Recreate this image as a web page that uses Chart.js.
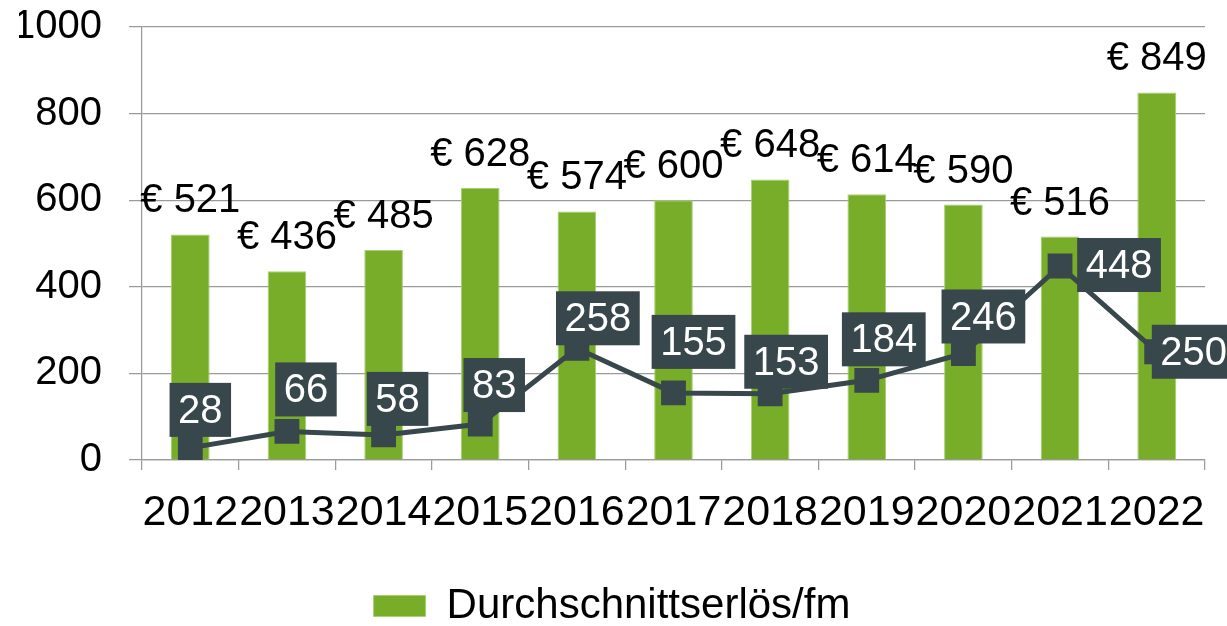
<!DOCTYPE html>
<html>
<head>
<meta charset="utf-8">
<script src="https://cdn.jsdelivr.net/npm/chart.js@4.4.0/dist/chart.umd.min.js"></script>
<style>
  html, body { margin: 0; padding: 0; background: #fff; }
  canvas { display: block; }
</style>
</head>
<body>
<canvas id="chart" width="1227" height="626"></canvas>
<script>
// Chart data
const years = ['2012', '2013', '2014', '2015', '2016', '2017', '2018', '2019', '2020', '2021', '2022'];
const avgRevenue = [521, 436, 485, 628, 574, 600, 648, 614, 590, 516, 849];
const lineValues = [28, 66, 58, 83, 258, 155, 153, 184, 246, 448, 250];
const yTicks = [0, 200, 400, 600, 800, 1000];

// Where each line label box sits relative to its point (dx, dy)
const lineLabelOffsets = [[10, -38], [19, -42], [14, -36], [14, -39], [21, -30], [20, -51],
    [16, -32], [17, -41], [20, -37], [59, -1], [37, 0]];

const FONT = "'Liberation Sans', Arial, sans-serif";
const green = '#78ad29';
const slate = '#37474c';
const gridGray = '#9a9a9a';

// Draw the value labels (bars: plain text, line: boxed)
const valueLabels = {
    id: 'valueLabels',
    afterDatasetsDraw(chart) {
        const ctx = chart.ctx;
        ctx.save();
        ctx.font = '40px ' + FONT;

        // bar labels
        const barMeta = chart.getDatasetMeta(0);
        ctx.fillStyle = '#000';
        ctx.textAlign = 'center';
        ctx.textBaseline = 'alphabetic';
        barMeta.data.forEach((bar, i) => {
            ctx.fillText('€ ' + avgRevenue[i], bar.x, bar.y - 22);
        });

        // line labels
        const lineMeta = chart.getDatasetMeta(1);
        ctx.textBaseline = 'middle';
        lineMeta.data.forEach((pt, i) => {
            const text = String(lineValues[i]);
            const w = ctx.measureText(text).width + 17;
            const h = 54;
            const cx = pt.x + lineLabelOffsets[i][0];
            const cy = pt.y + lineLabelOffsets[i][1];
            ctx.fillStyle = slate;
            ctx.fillRect(cx - w / 2, cy - h / 2, w, h);
            ctx.fillStyle = '#fff';
            ctx.fillText(text, cx, cy + 2);
        });
        ctx.restore();
    }
};

const ctx = document.getElementById('chart').getContext('2d');
const chart = new Chart(ctx, {
    data: {
        labels: years,
        datasets: [
            {
                type: 'bar',
                label: 'Durchschnittserlös/fm',
                data: avgRevenue,
                backgroundColor: green,
                borderColor: '#a9cf6f',
                borderWidth: 1,
                barPercentage: 0.4,
                categoryPercentage: 1.0,
                order: 2
            },
            {
                type: 'line',
                label: 'Menge',
                data: lineValues,
                borderColor: slate,
                backgroundColor: slate,
                borderWidth: 5,
                pointStyle: 'rect',
                pointRadius: 14,
                pointHoverRadius: 14,
                tension: 0,
                order: 1
            }
        ]
    },
    options: {
        responsive: false,
        animation: false,
        events: [],
        layout: {
            padding: { left: 19, right: 22, top: 27, bottom: -11 }
        },
        scales: {
            x: {
                offset: true,
                afterFit(scale) {
                    scale.height = 119;
                    scale.paddingLeft = 0;
                    scale.paddingRight = 0;
                },
                grid: {
                    offset: true,
                    drawOnChartArea: false,
                    color: gridGray,
                    tickLength: 10,
                    lineWidth: 1.25
                },
                border: { color: gridGray, width: 1.25 },
                ticks: {
                    color: '#000',
                    font: { family: FONT, size: 43 },
                    padding: 17,
                    maxRotation: 0,
                    autoSkip: false
                }
            },
            y: {
                min: 0,
                max: 1000,
                afterBuildTicks(scale) {
                    scale.ticks = yTicks.map(v => ({ value: v }));
                },
                afterFit(scale) {
                    scale.width = 123;
                    scale.paddingTop = 0;
                    scale.paddingBottom = 0;
                },
                grid: {
                    color: gridGray,
                    lineWidth: 1.25,
                    tickLength: 13
                },
                border: { color: gridGray, width: 1.25 },
                ticks: {
                    color: '#000',
                    font: { family: FONT, size: 40 },
                    padding: 27,
                    callback: v => String(v)
                }
            }
        },
        plugins: {
            legend: {
                position: 'bottom',
                labels: {
                    color: '#000',
                    font: { family: FONT, size: 42 },
                    boxWidth: 52,
                    boxHeight: 21,
                    padding: 6,
                    filter: item => item.datasetIndex === 0
                }
            },
            tooltip: { enabled: false }
        }
    },
    plugins: [valueLabels]
});
</script>
</body>
</html>
